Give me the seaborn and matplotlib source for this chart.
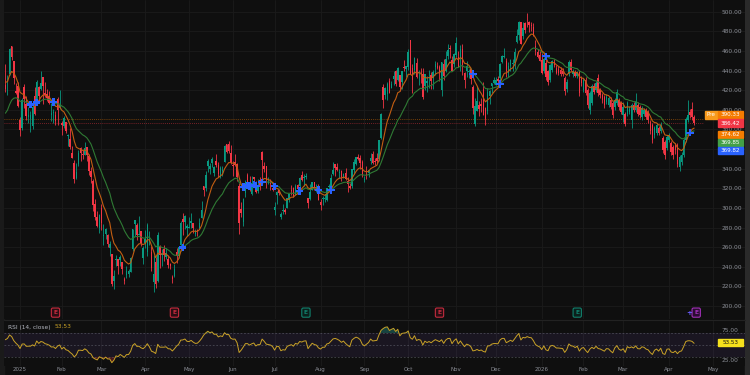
import numpy as np
import pandas as pd
import seaborn as sns
import matplotlib.pyplot as plt
from matplotlib.patches import Rectangle
from matplotlib.lines import Line2D
from matplotlib.transforms import blended_transform_factory

##################################################################
# Data: daily candles, Dec 20 2024 .. Apr 20 2026 (one per trading day)
##################################################################
opens = [
    425, 431, 436, 465, 450, 419, 424,  # Dec 24
    390, 381, 423, 406, 393, 391, 383, 414, 410, 423, 421, 433, 417, 416, 414, 395, 397, 395, 411, 402,
    387, 383, 388, 373, 370, 356, 346, 330, 345, 361, 355, 354, 362, 353, 338, 327, 304, 291, 280,
    300, 271, 273, 272, 259, 253, 225, 247, 248, 247, 245, 228, 232, 233, 235, 258, 284, 283, 272, 276, 249,
    264, 255, 265, 255, 224, 245, 225, 260, 252, 258, 250, 248, 243, 230, 231, 255, 251, 262, 289, 286, 280,
    280, 285, 285, 273, 277, 280, 290, 322, 320, 343, 340, 346, 336, 348, 344, 332, 338, 347, 365, 365, 356,
    344, 347, 345, 322, 299, 286, 315, 334, 323, 314, 331, 326, 317, 328, 357, 343, 343, 325, 325, 320,
    298, 313, 318, 291, 297, 298, 300, 308, 318, 320, 313, 323, 322, 334, 330, 331, 310, 309, 318, 326, 319, 320,
    306, 309, 309, 308, 321, 321, 335, 345, 342, 336, 338, 330, 336, 327, 322, 322, 339, 345, 352, 351, 347,
    328, 335, 336, 348, 355, 348, 351, 350, 371, 423, 415, 416, 429, 422, 431, 440, 430, 435, 428, 444, 442,
    444, 471, 443, 441, 448, 438, 437, 437, 424, 427, 435, 435, 432, 444, 445, 444, 420, 447, 440, 455, 463, 451, 447,
    456, 454, 453, 462, 438, 440, 439, 442, 423, 386, 399, 405, 406, 421, 402, 399, 414, 424, 427,
    425, 431, 432, 449, 454, 450, 438, 445, 447, 448, 469, 476, 489, 475, 488, 490, 489, 486, 484, 465, 459, 456,
    451, 440, 448, 440, 430, 441, 449, 443, 442, 441, 440, 432, 421, 436, 449, 436, 439, 434, 439, 432,
    420, 430, 420, 400, 407, 424, 420, 432, 420, 415, 413, 408, 405, 410, 407, 403, 407, 410, 407,
    395, 396, 396, 398, 390, 405, 400, 405, 403, 393, 396, 400, 398, 388, 385, 374, 376, 381, 378, 371, 367, 361,
    369, 366, 362, 364, 364, 342, 347, 354, 369, 390, 398, 401, 393,
]
highs = [
    447, 435, 463, 465, 450, 427, 428,
    393, 412, 426, 414, 403, 399, 404, 423, 430, 424, 440, 433, 428, 421, 419, 407, 401, 399, 413, 420,
    389, 394, 388, 375, 381, 363, 349, 346, 359, 362, 359, 367, 362, 355, 342, 329, 309, 297, 294,
    304, 284, 280, 273, 266, 253, 237, 252, 248, 252, 245, 230, 241, 238, 250, 279, 288, 285, 292, 276, 261,
    277, 285, 276, 261, 252, 250, 275, 262, 258, 262, 259, 252, 244, 232, 243, 259, 260, 287, 295, 293, 284,
    291, 295, 285, 278, 278, 290, 307, 322, 338, 350, 346, 352, 343, 355, 347, 343, 343, 364, 365, 368, 364,
    348, 355, 346, 325, 306, 310, 328, 336, 333, 333, 332, 327, 329, 332, 358, 347, 343, 331, 329, 326,
    306, 317, 318, 296, 304, 300, 310, 314, 323, 321, 324, 324, 331, 338, 335, 336, 310, 324, 326, 326, 324, 324,
    309, 312, 314, 320, 324, 335, 347, 345, 346, 340, 339, 336, 341, 331, 325, 340, 350, 352, 355, 354, 349,
    333, 343, 339, 356, 358, 351, 356, 369, 397, 426, 423, 428, 432, 429, 440, 441, 444, 435, 440, 451, 445,
    462, 471, 447, 454, 453, 441, 443, 443, 437, 434, 441, 439, 441, 450, 449, 446, 449, 452, 460, 467, 466, 455, 458,
    474, 460, 466, 467, 439, 450, 442, 442, 425, 412, 424, 409, 412, 428, 403, 422, 420, 427, 433,
    433, 434, 448, 456, 463, 453, 449, 452, 452, 463, 482, 491, 490, 489, 490, 499, 491, 489, 488, 471, 462, 460,
    458, 454, 452, 441, 447, 451, 452, 446, 445, 444, 443, 434, 431, 451, 452, 442, 441, 440, 441, 434,
    432, 433, 422, 419, 426, 427, 429, 437, 422, 417, 415, 416, 414, 413, 409, 412, 421, 412, 409,
    408, 398, 409, 404, 407, 408, 417, 408, 405, 404, 402, 402, 400, 390, 387, 383, 387, 383, 388, 373, 369, 374,
    376, 368, 364, 366, 366, 354, 357, 371, 393, 410, 401, 408, 395,
]
lows = [
    418, 415, 435, 451, 426, 416, 403,
    373, 379, 402, 390, 387, 377, 380, 395, 406, 409, 420, 406, 413, 409, 406, 389, 387, 384, 384, 401,
    374, 381, 376, 363, 360, 351, 325, 329, 343, 348, 350, 354, 348, 334, 325, 297, 288, 281, 274,
    277, 262, 268, 260, 251, 220, 217, 241, 233, 241, 233, 222, 229, 230, 235, 256, 271, 267, 272, 261, 243,
    259, 251, 262, 236, 214, 218, 224, 239, 241, 246, 248, 239, 238, 223, 230, 244, 249, 260, 272, 279, 271,
    280, 280, 274, 271, 271, 279, 290, 312, 317, 337, 335, 342, 333, 342, 332, 330, 333, 347, 356, 356, 345,
    333, 343, 327, 273, 291, 282, 311, 323, 317, 313, 326, 315, 315, 318, 327, 337, 320, 324, 318, 317,
    293, 304, 313, 289, 294, 294, 300, 306, 313, 311, 313, 317, 321, 327, 322, 329, 300, 308, 318, 318, 316, 308,
    298, 303, 306, 307, 317, 321, 334, 333, 338, 330, 327, 330, 328, 316, 319, 320, 335, 344, 349, 340, 332,
    326, 329, 331, 345, 345, 344, 346, 348, 370, 402, 411, 410, 417, 422, 425, 424, 429, 419, 421, 440, 433,
    441, 436, 417, 437, 432, 425, 427, 411, 420, 418, 422, 421, 421, 435, 442, 429, 414, 430, 439, 452, 453, 440, 444,
    454, 444, 440, 435, 422, 433, 432, 426, 396, 383, 399, 394, 398, 395, 384, 396, 406, 417, 426,
    425, 423, 429, 448, 453, 433, 433, 440, 440, 442, 468, 471, 467, 472, 478, 484, 479, 480, 475, 456, 453, 450,
    436, 438, 430, 425, 428, 439, 444, 436, 435, 434, 434, 415, 418, 434, 440, 433, 433, 432, 414, 424,
    418, 415, 402, 396, 405, 416, 418, 414, 412, 407, 402, 406, 403, 401, 392, 400, 405, 400, 396,
    388, 383, 394, 396, 381, 398, 398, 394, 392, 390, 394, 391, 387, 375, 366, 371, 374, 374, 376, 356, 350, 359,
    367, 354, 350, 355, 342, 338, 344, 352, 367, 388, 392, 390, 384,
]
closes = [
    421, 431, 462, 454, 432, 417, 404,
    379, 410, 411, 394, 395, 395, 403, 396, 428, 414, 427, 424, 415, 412, 407, 397, 398, 389, 400, 405,
    384, 392, 378, 374, 362, 351, 329, 337, 356, 356, 354, 361, 354, 338, 331, 303, 291, 282, 293,
    285, 272, 279, 263, 263, 222, 231, 248, 241, 250, 238, 225, 236, 236, 249, 278, 288, 272, 273, 264, 259,
    268, 283, 267, 239, 233, 222, 272, 252, 252, 252, 254, 242, 241, 228, 238, 251, 260, 285, 286, 292, 282,
    281, 287, 280, 275, 276, 285, 298, 318, 334, 348, 343, 350, 342, 344, 335, 341, 339, 363, 357, 358, 346,
    343, 344, 332, 285, 295, 309, 326, 326, 319, 325, 329, 316, 322, 322, 349, 340, 328, 326, 324, 318,
    301, 316, 315, 294, 298, 296, 310, 314, 317, 311, 322, 319, 330, 328, 332, 333, 305, 316, 326, 321, 319, 308,
    303, 309, 309, 320, 322, 330, 339, 341, 339, 336, 331, 335, 329, 324, 320, 340, 347, 352, 350, 346, 334,
    329, 334, 339, 351, 346, 347, 348, 369, 396, 410, 422, 426, 417, 426, 434, 426, 443, 423, 440, 443, 445,
    459, 436, 430, 453, 433, 439, 436, 413, 436, 429, 435, 429, 439, 447, 443, 439, 449, 434, 452, 461, 462, 440, 457,
    468, 444, 462, 446, 430, 445, 440, 431, 402, 404, 409, 401, 404, 395, 391, 418, 419, 427, 430,
    430, 429, 447, 455, 455, 440, 445, 451, 447, 459, 475, 490, 467, 483, 481, 489, 486, 485, 475, 460, 454, 450,
    438, 452, 433, 428, 446, 450, 446, 438, 438, 437, 436, 419, 428, 449, 441, 440, 434, 439, 417, 427,
    430, 417, 405, 417, 424, 418, 427, 417, 415, 410, 405, 413, 412, 403, 395, 410, 418, 403, 398,
    403, 386, 407, 401, 405, 400, 408, 396, 395, 402, 400, 393, 390, 378, 369, 381, 385, 376, 385, 359, 354, 372,
    373, 357, 354, 359, 345, 352, 354, 369, 391, 395, 395, 393, 386.42,
]

# closes before the visible window (Nov 1 - Dec 19 2024), only to warm up EMA / RSI
warmup_closes = [249, 243, 251, 289, 297, 321, 350, 328, 330, 311, 321, 339, 346, 342, 340, 353, 339,
                 338, 333, 345, 357, 351, 358, 369, 389, 390, 401, 425, 418, 436, 463, 480, 440, 436]

month_labels = ['2025', 'Feb', 'Mar', 'Apr', 'May', 'Jun', 'Jul', 'Aug', 'Sep', 'Oct', 'Nov', 'Dec',
                '2026', 'Feb', 'Mar', 'Apr', 'May']
# trading days per month (first entry = the Dec 2024 days shown)
month_days = [7, 20, 19, 21, 21, 21, 20, 22, 21, 21, 23, 19, 22, 20, 19, 22, 21]

earnings_idx = [24, 81, 144, 208, 274, 331]
earnings_kind = ['miss', 'miss', 'beat', 'miss', 'beat', 'next']

pre_price = 390.33
last_price = 386.42
ema_fast_value = 374.62
ema_slow_value = 369.85
cross_value = 369.82
rsi_value = 53.53

##################################################################
# Indicators
##################################################################
df = pd.DataFrame({'open': opens, 'high': highs, 'low': lows, 'close': closes})
df['idx'] = np.arange(len(df))
nWarm = len(warmup_closes)
allClose = pd.Series(warmup_closes + closes, dtype=float)

df['ema9'] = allClose.ewm(span=9, adjust=False).mean().iloc[nWarm:].to_numpy()
df['ema21'] = allClose.ewm(span=21, adjust=False).mean().iloc[nWarm:].to_numpy()

delta = allClose.diff()
avgGain = delta.clip(lower=0).ewm(alpha=1 / 14, adjust=False).mean()
avgLoss = (-delta.clip(upper=0)).ewm(alpha=1 / 14, adjust=False).mean()
df['rsi'] = (100 - 100 / (1 + avgGain / avgLoss)).iloc[nWarm:].to_numpy()

sign = np.sign(df['ema9'] - df['ema21']).to_numpy()
crossIdx = np.where(sign[1:] != sign[:-1])[0] + 1
crosses = pd.DataFrame({'idx': crossIdx,
                        'y': (df['ema9'].to_numpy()[crossIdx] + df['ema21'].to_numpy()[crossIdx]) / 2})

##################################################################
# Style
##################################################################
BG = '#0f0f0f'
GRID = '#1b1b1b'
TXT = '#8b8e96'
UP = '#089981'
DOWN = '#f23645'

sns.set_theme(style='dark', rc={'axes.facecolor': BG, 'figure.facecolor': BG})
plt.rcParams['font.family'] = ['DejaVu Sans']

W, H = 750, 375
fig = plt.figure(figsize=(7.5, 3.75), dpi=100)
left, right = 4, 745
ax = fig.add_axes([left / W, 1 - 319 / H, (right - left) / W, 319 / H])
axr = fig.add_axes([left / W, 1 - 366 / H, (right - left) / W, 46 / H], sharex=ax)

x0 = 5.4
pxPerDay = 2.087
xmin = (left - x0) / pxPerDay
xmax = (right - x0) / pxPerDay
chartEnd = (704 - left) / (right - left)

##################################################################
# Price pane
##################################################################
up = df['close'] >= df['open']
colors = np.where(up, UP, DOWN)
ax.vlines(df['idx'], df['low'], df['high'], colors=colors, linewidth=0.6, zorder=3)
ax.bar(df['idx'], (df['close'] - df['open']).abs().clip(lower=0.6),
       bottom=np.minimum(df['open'], df['close']), width=0.74, color=colors, linewidth=0, zorder=3)

sns.lineplot(data=df, x='idx', y='ema21', ax=ax, color='#2f7a34', linewidth=0.8, zorder=4)
sns.lineplot(data=df, x='idx', y='ema9', ax=ax, color='#c25e12', linewidth=0.8, zorder=4)
sns.scatterplot(data=crosses, x='idx', y='y', ax=ax, marker='P', s=28, color='#2962ff',
                edgecolor='none', zorder=6)

ax.axhline(pre_price, xmax=chartEnd, color='#f57c00', linestyle=(0, (1, 1.5)), linewidth=0.6, alpha=0.6)
ax.axhline(last_price, xmax=chartEnd, color=DOWN, linestyle=(0, (1, 1.5)), linewidth=0.6, alpha=0.6)

ax.set_xlim(xmin, xmax)
ax.set_ylim(500 - (319 - 11.7) / 0.981, 500 + 11.7 / 0.981)
priceTicks = np.arange(200, 501, 20)
ax.set_yticks(priceTicks)
# the 360 label sits under the value boxes on the scale, so it stays blank
ax.set_yticklabels(['' if v == 360 else f'{v:.2f}' for v in priceTicks])
monthTicks = np.cumsum(month_days)
ax.set_xticks(monthTicks)
ax.grid(True, color=GRID, linewidth=0.6)
ax.tick_params(axis='y', left=False, labelleft=False, right=False, labelright=True,
               labelsize=4.2, labelcolor=TXT, pad=-17, length=0)
for lab in ax.get_yticklabels():
    lab.set_horizontalalignment('left')
ax.tick_params(axis='x', bottom=False, labelbottom=False, length=0)
ax.set_xlabel('')
ax.set_ylabel('')
for s in ax.spines.values():
    s.set_visible(False)

# earnings markers
trans = blended_transform_factory(ax.transData, ax.transAxes)
kindStyle = {'miss': ('#c42b3e', '#2a0e13'), 'beat': ('#11806c', '#0b201c'), 'next': ('#a230b8', '#2a0d31')}
for i, k in zip(earnings_idx, earnings_kind):
    ec, fc = kindStyle[k]
    ax.text(i, 0.02, 'E', transform=trans, ha='center', va='center', fontsize=4.3, color=ec,
            fontweight='bold', bbox=dict(boxstyle='round,pad=0.35,rounding_size=0.25', fc=fc, ec=ec, lw=0.8),
            zorder=7)
    if k == 'next':
        ax.text(i - 3.2, 0.018, '+', transform=trans, ha='center', va='center', fontsize=5,
                color='#6a5cff', fontweight='bold', zorder=7)

##################################################################
# RSI pane
##################################################################
axr.axhspan(30, 70, color='#7e57c2', alpha=0.1, linewidth=0)
for lvl in (70, 50, 30):
    axr.axhline(lvl, color='#787b86', linestyle=(0, (2.5, 2.5)), linewidth=0.5, alpha=0.6)
rsiArr = df['rsi'].to_numpy()
axr.fill_between(df['idx'], 70, rsiArr, where=rsiArr > 70, interpolate=True, color='#26a69a',
                 alpha=0.35, linewidth=0)
axr.fill_between(df['idx'], 30, rsiArr, where=rsiArr < 30, interpolate=True, color='#f23645',
                 alpha=0.25, linewidth=0)
sns.lineplot(data=df, x='idx', y='rsi', ax=axr, color='#c9a227', linewidth=0.7)

axr.set_ylim(15, 91.7)
axr.set_yticks([25, 75])
axr.set_yticklabels(['25.00', '75.00'])
axr.set_xticks(monthTicks)
axr.set_xticklabels(month_labels)
axr.grid(True, axis='x', color=GRID, linewidth=0.6)
axr.grid(False, axis='y')
axr.tick_params(axis='y', left=False, labelleft=False, right=False, labelright=True,
                labelsize=4.2, labelcolor=TXT, pad=-17, length=0)
for lab in axr.get_yticklabels():
    lab.set_horizontalalignment('left')
axr.tick_params(axis='x', bottom=False, labelsize=4.0, labelcolor=TXT, pad=1.0, length=0)
axr.set_xlabel('')
axr.set_ylabel('')
for s in axr.spines.values():
    s.set_visible(False)

##################################################################
# Frame pieces and value labels
##################################################################
fig.add_artist(Rectangle((0, 0), left / W, 1, transform=fig.transFigure, color='#1a1a1a', zorder=0))
fig.add_artist(Rectangle((right / W, 0), 1 - right / W, 1, transform=fig.transFigure, color='#2a2a2a', zorder=0))
fig.add_artist(Line2D([left / W, right / W], [1 - 319.5 / H] * 2, color='#222222', linewidth=0.8))

fig.text(8 / W, 1 - 327 / H, 'RSI (14, close)', fontsize=4.2, color='#b2b5be', va='center')
fig.text(55 / W, 1 - 327 / H, f'{rsi_value:.2f}', fontsize=4.2, color='#c9a227', va='center')


def valueBox(ypx, text, fc, tc='white', x0px=718, wpx=25, hpx=7.6):
    fig.add_artist(Rectangle((x0px / W, 1 - (ypx + hpx / 2) / H), wpx / W, hpx / H,
                             transform=fig.transFigure, color=fc, zorder=9))
    fig.text((x0px + wpx / 2) / W, 1 - ypx / H, text, fontsize=4.1, color=tc, ha='center',
             va='center', zorder=10)


valueBox(115, 'Pre', '#f89a1c', x0px=705, wpx=12.5)
valueBox(115, f'{pre_price:.2f}', '#f57c00')
valueBox(123, f'{last_price:.2f}', '#f23645')
valueBox(134.5, f'{ema_fast_value:.2f}', '#f57c00')
valueBox(142.5, f'{ema_slow_value:.2f}', '#43a047')
valueBox(150.5, f'{cross_value:.2f}', '#2962ff')
valueBox(342.5, f'{rsi_value:.2f}', '#f5e11c', tc='#111111')

fig.savefig('out.png', dpi=100, facecolor=BG)
